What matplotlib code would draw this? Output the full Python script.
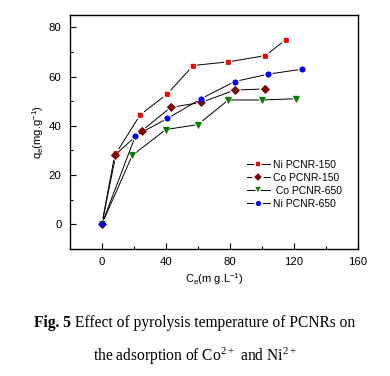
import matplotlib.pyplot as plt
from matplotlib.ticker import MultipleLocator

plt.rcParams['font.family'] = ['Liberation Sans', 'DejaVu Sans']

# data
ni150_x = [0, 9, 24, 41, 57, 79, 102, 115]
ni150_y = [0, 29, 44.5, 53, 64.5, 66, 68.5, 75]
co150_x = [0, 8, 25, 43, 62, 83, 102]
co150_y = [0, 28, 38, 47.5, 49.5, 54.5, 55]
co650_x = [0, 19, 40, 60, 79, 100, 121]
co650_y = [0, 28, 38.5, 40.5, 50.5, 50.5, 51]
ni650_x = [0, 21, 41, 62, 83, 104, 125]
ni650_y = [0, 36, 43, 51, 58, 61, 63]

series = [
    (ni150_x, ni150_y, 's', '#ff0000', 4.5, 'Ni PCNR-150'),
    (co150_x, co150_y, 'D', '#800000', 5, 'Co PCNR-150'),
    (co650_x, co650_y, 'v', '#008000', 6, ' Co PCNR-650'),
    (ni650_x, ni650_y, 'o', '#0000ff', 5, 'Ni PCNR-650'),
]

fig = plt.figure(figsize=(3.9, 3.76), dpi=100)
ax = fig.add_axes([0.179, 0.338, 0.739, 0.622])

for x, y, m, c, ms, lab in series:
    ax.plot(x, y, color='black', lw=0.7, marker=m, markersize=ms,
            markerfacecolor=c, markeredgecolor='white', markeredgewidth=1.2,
            label=lab)
# redraw markers without the white halo on top
for x, y, m, c, ms, lab in series:
    ax.plot(x, y, ls='none', marker=m, markersize=ms - 1.2,
            markerfacecolor=c, markeredgecolor=c, markeredgewidth=0.5)

ax.set_xlim(-20, 160)
ax.set_ylim(-10, 85)
ax.xaxis.set_major_locator(MultipleLocator(40))
ax.xaxis.set_minor_locator(MultipleLocator(20))
ax.yaxis.set_major_locator(MultipleLocator(20))
ax.yaxis.set_minor_locator(MultipleLocator(10))
ax.tick_params(which='both', direction='in', top=False, right=False,
               labelsize=8.2, width=0.8)
ax.tick_params(which='major', length=4, pad=6)
ax.tick_params(which='minor', length=2.5)
for s in ax.spines.values():
    s.set_linewidth(1.0)

ax.set_xlabel(r'C$\mathregular{_e}$(m g.L$\mathregular{^{-1}}$)', fontsize=8, labelpad=3)
ax.set_ylabel(r'q$\mathregular{_e}$(mg.g$\mathregular{^{-1}}$)', fontsize=8, labelpad=2)

ax.legend(loc='upper left', bbox_to_anchor=(0.6, 0.40), frameon=False,
          fontsize=7.5, handlelength=2.2, handletextpad=0.3, labelspacing=0.3,
          borderaxespad=0)

# caption: bold "Fig. 5" followed by regular text, centred as one line
serif = ['Liberation Serif', 'DejaVu Serif']
cap_size = 11.2
fig.canvas.draw()
r = fig.canvas.get_renderer()
t1 = fig.text(0, 0.141, 'Fig. 5', fontsize=cap_size, weight='bold',
              family=serif, va='center')
t2 = fig.text(0, 0.141, ' Effect of pyrolysis temperature of PCNRs on',
              fontsize=cap_size, family=serif, va='center')
w1 = t1.get_window_extent(r).width
w2 = t2.get_window_extent(r).width
W = fig.bbox.width
x0 = (W - w1 - w2) / 2
t1.set_x(x0 / W)
t2.set_x((x0 + w1) / W)

fig.text(0.5, 0.053, r'the adsorption of Co$\mathregular{^{2+}}$ and Ni$\mathregular{^{2+}}$',
         ha='center', va='center', fontsize=cap_size, family=serif)

fig.savefig('out.png', dpi=100)
